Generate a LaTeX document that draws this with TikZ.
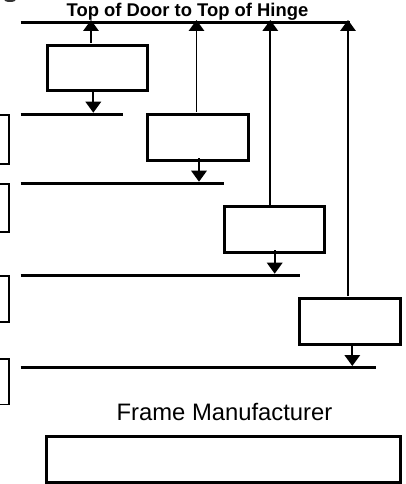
\documentclass[tikz,border=0pt]{standalone}
\usepackage{fontspec}
\setmainfont{Liberation Sans}
\usetikzlibrary{arrows.meta}
\tikzset{
  x=1pt,y=-1pt,
  box/.style={draw=black,line width=3pt},
  stubbox/.style={draw=black,line width=1.6pt},
  level/.style={line width=3.2pt,line cap=butt},
  dim/.style={line width=1.7pt,-{Triangle[width=15.5pt,length=11pt]}},
  lbl/.style={inner sep=0pt,anchor=base},
}
\newcommand{\rbox}[6]{\node[#6,inner sep=0pt,outer sep=0pt,minimum width=#3pt-#1pt,minimum height=#4pt-#2pt,anchor=north west] (#5) at (#1,#2) {};}
\begin{document}
\begin{tikzpicture}
\useasboundingbox (0,0) rectangle (406,484);
\rbox{47}{45.5}{147}{91}{b1}{box}
\rbox{147.5}{115}{248.2}{160}{b2}{box}
\rbox{224}{206.5}{324.5}{252}{b3}{box}
\rbox{299.5}{298.5}{400.5}{344}{b4}{box}
\rbox{46.5}{436.2}{400.5}{482.2}{fm}{box}
\begin{scope}
\clip (0,0) rectangle (406,484);
\fill[black!80] (10,-0.5) ellipse (6 and 2.5);
\rbox{-20}{114.8}{9.2}{164.2}{s1}{stubbox}
\rbox{-20}{184}{9.2}{232}{s2}{stubbox}
\rbox{-20}{276}{9.2}{322}{s3}{stubbox}
\rbox{-20}{358.8}{9.2}{404.5}{s4}{stubbox}
\end{scope}
\coordinate (t0) at (20.7,22.3); \coordinate (t1) at (349.7,22.3);
\coordinate (l1a) at (20.7,114.3); \coordinate (l1b) at (123,114.3);
\coordinate (l2a) at (20.7,183.3); \coordinate (l2b) at (223.7,183.3);
\coordinate (l3a) at (20.7,275.3); \coordinate (l3b) at (300,275.3);
\coordinate (l4a) at (20.7,367.3); \coordinate (l4b) at (376,367.3);
\draw[level] (t0) -- (t1);
\draw[level] (l1a) -- (l1b);
\draw[level] (l2a) -- (l2b);
\draw[level] (l3a) -- (l3b);
\draw[level] (l4a) -- (l4b);
\coordinate (u1a) at (91,42.7); \coordinate (u1b) at (91,20);
\coordinate (u2a) at (196.5,111.7); \coordinate (u2b) at (196.5,20);
\coordinate (u3a) at (270.3,205); \coordinate (u3b) at (270.3,20);
\coordinate (u4a) at (348,296); \coordinate (u4b) at (348,20);
\coordinate (d1a) at (93.3,92); \coordinate (d1b) at (93.3,112.7);
\coordinate (d2a) at (199,158); \coordinate (d2b) at (199,181.7);
\coordinate (d3a) at (274.7,250.3); \coordinate (d3b) at (274.7,273.7);
\coordinate (d4a) at (352.3,344); \coordinate (d4b) at (352.3,366);
\foreach \p in {u1,u2,u3,u4,d1,d2,d3,d4}{\draw[dim] (\p a) -- (\p b);}
\node[lbl,font=\bfseries\fontsize{18.4}{18.4}\selectfont] (title) at (187.5,17) {Top of Door to Top of Hinge};
\node[lbl,font=\fontsize{23.8}{23.8}\selectfont] (fmt) at (224.5,420) {Frame Manufacturer};
\end{tikzpicture}
\end{document}
